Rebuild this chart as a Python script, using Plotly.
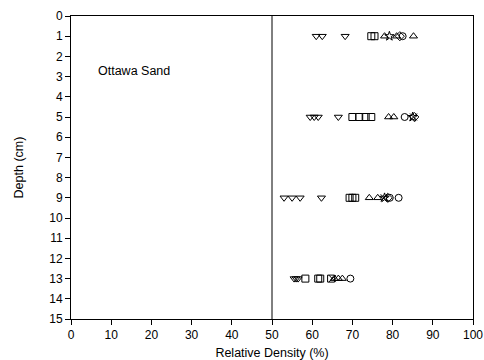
import plotly.graph_objects as go

# Relative density (%) readings grouped by marker symbol, with depths (cm)
tri_down_x = [61.0, 62.5, 68.2, 59.5, 60.5, 61.5, 66.5, 53.0, 55.0, 57.0, 62.3, 55.5, 56.0, 56.5]
tri_down_y = [1, 1, 1, 5, 5, 5, 5, 9, 9, 9, 9, 13, 13, 13]
square_x = [74.7, 75.5, 70.0, 71.7, 73.3, 74.7, 69.3, 70.0, 70.7, 58.3, 61.5, 62.0, 64.7]
square_y = [1, 1, 5, 5, 5, 5, 9, 9, 9, 13, 13, 13, 13]
tri_up_x = [78.0, 81.0, 85.2, 79.0, 80.3, 74.2, 76.3, 65.5, 66.5, 67.5]
tri_up_y = [1, 1, 1, 5, 5, 9, 9, 13, 13, 13]
star_x = [79.2, 85.0, 78.0]
star_y = [1, 5, 9]
circle_x = [82.5, 83.0, 79.3, 81.5, 69.5]
circle_y = [1, 5, 9, 9, 13]
diamond_x = [81.8, 85.4, 78.8]
diamond_y = [1, 5, 9]
cross_x = [85.2, 77.9, 65.0]
cross_y = [5, 9, 13]

x_ticks = list(range(0, 101, 10))
y_ticks = list(range(0, 16))

series = [
    (tri_down_x, tri_down_y, "triangle-down-open"),
    (square_x, square_y, "square-open"),
    (tri_up_x, tri_up_y, "triangle-up-open"),
    (star_x, star_y, "star-open"),
    (circle_x, circle_y, "circle-open"),
    (diamond_x, diamond_y, "diamond-open"),
    (cross_x, cross_y, "x-thin-open"),
]

fig = go.Figure()
for xs, ys, sym in series:
    fig.add_trace(go.Scatter(
        x=xs, y=ys, mode="markers",
        marker=dict(symbol=sym, size=7, color="black",
                    line=dict(color="black", width=1)),
        showlegend=False,
    ))

fig.add_shape(type="line", x0=50, x1=50, y0=0, y1=15, xref="x", yref="y",
              line=dict(color="black", width=1))

fig.add_annotation(x=6.3, y=2.7, text="Ottawa Sand", showarrow=False,
                   xanchor="left", yanchor="middle",
                   font=dict(size=12.5, color="black"))

axis_common = dict(
    showgrid=False, zeroline=False, showline=True, linecolor="black",
    linewidth=1, mirror=True, ticks="outside", ticklen=5, tickcolor="black",
    tickfont=dict(size=12, color="black"), automargin=False,
)

fig.update_xaxes(range=[0, 100], tickvals=x_ticks,
                 title=dict(text="Relative Density (%)", font=dict(size=12.5, color="black"), standoff=9),
                 **axis_common)
fig.update_yaxes(range=[15, 0], tickvals=y_ticks,
                 title=dict(text="Depth (cm)", font=dict(size=12.5, color="black"), standoff=22),
                 **axis_common)

fig.update_layout(
    width=484, height=360,
    margin=dict(l=71, r=11, t=16, b=41),
    paper_bgcolor="white", plot_bgcolor="white",
    font=dict(family="Liberation Sans, Arial, sans-serif", size=12, color="black"),
)

fig.write_html("out.html")
